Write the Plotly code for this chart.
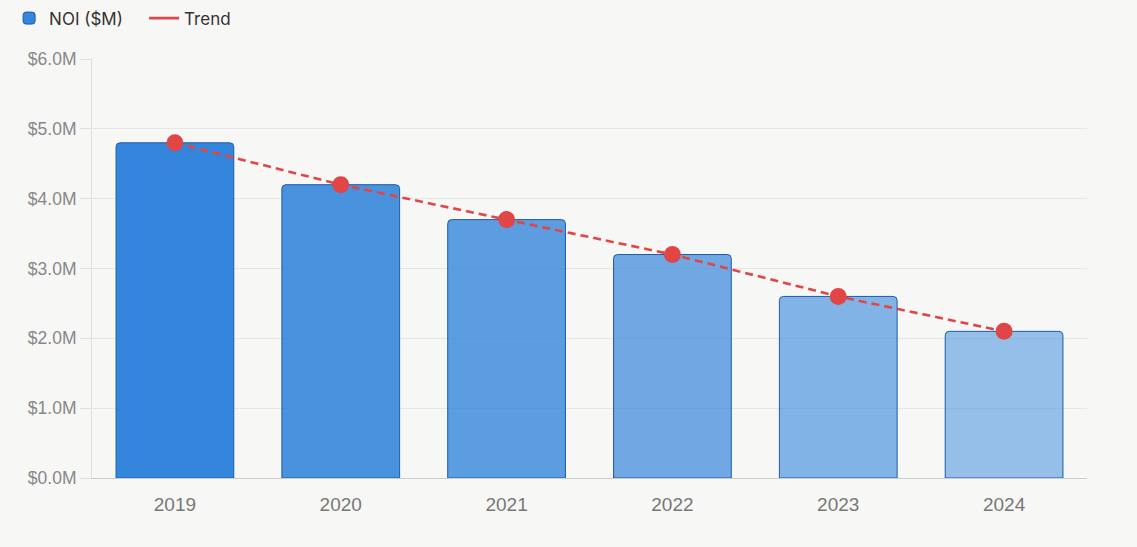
import plotly.graph_objects as go

years = ["2019", "2020", "2021", "2022", "2023", "2024"]
noi = [4.8, 4.2, 3.7, 3.2, 2.6, 2.1]
bar_opacity = [1.0, 0.9, 0.8, 0.7, 0.6, 0.5]
y_ticks = [0, 1, 2, 3, 4, 5, 6]
y_tick_labels = ["$0.0M", "$1.0M", "$2.0M", "$3.0M", "$4.0M", "$5.0M", "$6.0M"]

BLUE = (52, 134, 220)
RED = "#E04646"

fig = go.Figure()
fig.add_trace(go.Bar(
    x=years, y=noi, name="NOI ($M)",
    marker=dict(
        color=[f"rgba({BLUE[0]},{BLUE[1]},{BLUE[2]},{a})" for a in bar_opacity],
        line=dict(color="#1C5DAA", width=1),
        cornerradius=4,
    ),
    width=0.71,
    hoverinfo="x+y",
))
fig.add_trace(go.Scatter(
    x=years, y=noi, mode="lines+markers", showlegend=False,
    line=dict(color=RED, width=2.6, dash="8px,5px"),
    marker=dict(color=RED, size=17),
))
fig.add_trace(go.Scatter(
    x=[None], y=[None], mode="lines", name="Trend",
    line=dict(color=RED, width=2.6),
))

fig.update_layout(
    width=1137, height=547,
    paper_bgcolor="#F7F7F5", plot_bgcolor="#F7F7F5",
    margin=dict(l=92, r=50, t=59, b=69),
    font=dict(family="Liberation Sans, Arial, sans-serif", size=16, color="#888888"),
    showlegend=True,
    legend=dict(
        orientation="h", x=0.008, xanchor="left", y=0.999, yanchor="top",
        xref="container", yref="container",
        font=dict(family="Inter, sans-serif", size=17, color="#333333"),
        bgcolor="rgba(0,0,0,0)", traceorder="normal",
        entrywidth=90, entrywidthmode="pixels",
    ),
)
fig.update_xaxes(
    showgrid=False, showline=True, linecolor="#CCCCCC", linewidth=1,
    ticks="", ticklabelstandoff=9, tickfont=dict(size=19, color="#777777"),
)
fig.update_yaxes(
    range=[0, 6], tickvals=y_ticks, ticktext=y_tick_labels,
    showgrid=True, gridcolor="#E6E6E6", gridwidth=1,
    showline=True, linecolor="#E0E0E0", linewidth=1,
    ticks="outside", ticklen=11, tickcolor="#E0E0E0",
    tickfont=dict(size=17.5, color="#888888"), zeroline=False,
)

fig.write_html("out.html", config={"displayModeBar": False},
               post_script="document.body.style.margin='0';")
